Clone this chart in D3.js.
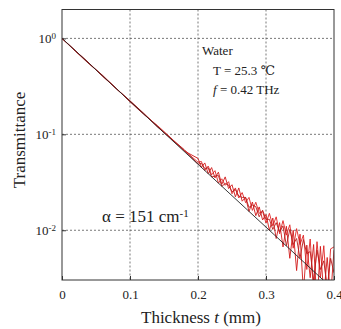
<!DOCTYPE html>
<html>
<head>
<meta charset="utf-8">
<script src="https://cdn.jsdelivr.net/npm/d3@7"></script>
<style>
  body { margin: 0; background: #fff; }
  svg { display: block; font-family: "Liberation Serif", "DejaVu Serif", serif; }
</style>
</head>
<body>
<div id="graph"></div>
<script>
// thickness (mm) shared by the three measured traces
const thickness = [0, 0.02, 0.04, 0.06, 0.08, 0.10, 0.12, 0.14, 0.16, 0.18,
  0.200, 0.205, 0.210, 0.215, 0.220, 0.225, 0.230, 0.235, 0.240, 0.245,
  0.250, 0.255, 0.260, 0.265, 0.270, 0.275, 0.280, 0.285, 0.290, 0.295,
  0.300, 0.305, 0.310, 0.315, 0.320, 0.325, 0.330, 0.335, 0.340, 0.345,
  0.350, 0.355, 0.360, 0.365, 0.370, 0.375, 0.380, 0.385, 0.390, 0.395, 0.400];

const traceA = [1.0, 0.74, 0.55, 0.40, 0.30, 0.222, 0.165, 0.122, 0.090, 0.068,
  0.0512, 0.0521, 0.0419, 0.0467, 0.0378, 0.0418, 0.0310, 0.0344, 0.0294, 0.0321,
  0.0240, 0.0276, 0.0217, 0.0247, 0.0194, 0.0220, 0.0161, 0.0196, 0.0150, 0.0157,
  0.0119, 0.0150, 0.0111, 0.0138, 0.0092, 0.0126, 0.0089, 0.0114, 0.0065, 0.0104,
  0.0071, 0.0089, 0.0039, 0.0081, 0.0022, 0.0076, 0.0032, 0.0069, 0.0019, 0.0064, 0.0067];

const traceB = [1.0, 0.73, 0.54, 0.41, 0.30, 0.218, 0.162, 0.124, 0.092, 0.067,
  0.0561, 0.0453, 0.0503, 0.0389, 0.0450, 0.0351, 0.0403, 0.0301, 0.0360, 0.0272,
  0.0298, 0.0223, 0.0276, 0.0201, 0.0220, 0.0157, 0.0197, 0.0142, 0.0175, 0.0128,
  0.0146, 0.0100, 0.0134, 0.0082, 0.0120, 0.0067, 0.0110, 0.0051, 0.0100, 0.0038,
  0.0091, 0.0023, 0.0070, 0.0032, 0.0071, 0.0017, 0.0068, 0.0021, 0.0052, 0.0020, 0.0062];

const traceC = [1.0, 0.74, 0.55, 0.405, 0.297, 0.224, 0.166, 0.120, 0.091, 0.069,
  0.0488, 0.0498, 0.0440, 0.0447, 0.0360, 0.0367, 0.0372, 0.0287, 0.0307, 0.0296,
  0.0252, 0.0265, 0.0227, 0.0220, 0.0220, 0.0173, 0.0183, 0.0176, 0.0138, 0.0162,
  0.0130, 0.0130, 0.0102, 0.0120, 0.0096, 0.0111, 0.0069, 0.0102, 0.0071, 0.0082,
  0.0051, 0.0080, 0.0057, 0.0060, 0.0030, 0.0062, 0.0039, 0.0048, 0.0025, 0.0051, 0.0036];

// fitted exponential (alpha = 151 cm^-1), straight on log axis
const fitThickness = [0, 0.4];
const fitT = [1, 0.00238];

const xTicks = [0, 0.1, 0.2, 0.3, 0.4];
const xTickLabels = ["0", "0.1", "0.2", "0.3", "0.4"];
const yTicks = [1, 0.1, 0.01];
const yTickExp = ["0", "-1", "-2"];

const W = 341, H = 329;
const margin = {top: 9.5, right: 7, bottom: 49, left: 62};
const width = W - margin.left - margin.right,
  height = H - margin.top - margin.bottom;

const svg = d3.select("#graph").append("svg")
  .attr("width", W).attr("height", H);

const x = d3.scaleLinear().domain([0, 0.4]).range([0, width]);
const y = d3.scaleLog().domain([0.00303, 2.0]).range([height, 0]);

const g = svg.append("g")
  .attr("transform", `translate(${margin.left},${margin.top})`);

g.append("clipPath").attr("id", "clip")
  .append("rect").attr("width", width).attr("height", height);

// grid
g.append("g").selectAll("line")
  .data(xTicks.slice(1, -1))
  .join("line")
    .attr("x1", d => x(d)).attr("x2", d => x(d))
    .attr("y1", 0).attr("y2", height)
    .attr("stroke", "#555").attr("stroke-width", 0.8)
    .attr("stroke-dasharray", "2,2");
g.append("g").selectAll("line")
  .data(yTicks)
  .join("line")
    .attr("x1", 0).attr("x2", width)
    .attr("y1", d => y(d)).attr("y2", d => y(d))
    .attr("stroke", "#555").attr("stroke-width", 0.8)
    .attr("stroke-dasharray", "2,2");

// axes
const xAxis = g.append("g")
  .attr("transform", `translate(0,${height})`)
  .call(d3.axisBottom(x).tickValues(xTicks).tickSizeInner(-4).tickSizeOuter(0)
    .tickFormat((d, i) => xTickLabels[i]));
xAxis.select(".domain").remove();
xAxis.selectAll("line").attr("stroke", "#333");
xAxis.selectAll("text")
  .attr("y", 10)
  .attr("font-family", "Liberation Serif")
  .attr("font-size", 13)
  .attr("fill", "#222");

const yAxis = g.append("g")
  .call(d3.axisLeft(y).tickValues(yTicks).tickSizeInner(-4).tickSizeOuter(0)
    .tickFormat(() => ""));
yAxis.select(".domain").remove();
yAxis.selectAll("line").attr("stroke", "#333");
yAxis.selectAll(".tick").each(function(d, i) {
  const t = d3.select(this).append("text")
    .attr("x", -6).attr("dy", "0.35em")
    .attr("text-anchor", "end")
    .attr("font-family", "Liberation Serif")
    .attr("font-size", 13)
    .attr("fill", "#222");
  t.append("tspan").text("10");
  t.append("tspan").attr("dy", "-0.5em").attr("font-size", 9).text(yTickExp[i]);
});

// data
const line = d3.line()
  .x(d => x(d[0]))
  .y(d => y(d[1]));

const plot = g.append("g").attr("clip-path", "url(#clip)");
[[traceA, "#e02424"], [traceB, "#d01818"], [traceC, "#b81c1c"]].forEach(([tr, col]) => {
  plot.append("path")
    .datum(thickness.map((t, i) => [t, tr[i]]))
    .attr("d", line)
    .attr("fill", "none")
    .attr("stroke", col)
    .attr("stroke-width", 0.9);
});
plot.append("path")
  .datum(fitThickness.map((t, i) => [t, fitT[i]]))
  .attr("d", line)
  .attr("fill", "none")
  .attr("stroke", "#222")
  .attr("stroke-width", 0.9);

// frame
g.append("rect")
  .attr("width", width).attr("height", height)
  .attr("fill", "none").attr("stroke", "#333").attr("stroke-width", 1);

// axis titles
svg.append("text")
  .attr("x", 201).attr("y", 323)
  .attr("text-anchor", "middle")
  .attr("font-size", 17).attr("fill", "#222")
  .call(t => {
    t.append("tspan").text("Thickness ");
    t.append("tspan").attr("font-style", "italic").text("t");
    t.append("tspan").text(" (mm)");
  });
svg.append("text")
  .attr("transform", "translate(25,140) rotate(-90)")
  .attr("text-anchor", "middle")
  .attr("font-size", 17).attr("fill", "#222")
  .text("Transmittance");

// annotations
svg.append("text").attr("x", 202).attr("y", 55)
  .attr("font-size", 13).attr("fill", "#222").text("Water");
svg.append("text").attr("x", 213).attr("y", 75)
  .attr("font-size", 13).attr("fill", "#222").text("T = 25.3 \u2103");
svg.append("text").attr("x", 213).attr("y", 94)
  .attr("font-size", 13).attr("fill", "#222")
  .call(t => {
    t.append("tspan").attr("font-style", "italic").text("f");
    t.append("tspan").text(" = 0.42 THz");
  });
svg.append("text").attr("x", 102).attr("y", 222)
  .attr("font-size", 17).attr("fill", "#222")
  .call(t => {
    t.append("tspan").text("\u03b1 = 151 cm");
    t.append("tspan").attr("dy", "-0.5em").attr("font-size", 11).text("-1");
  });
</script>
</body>
</html>
